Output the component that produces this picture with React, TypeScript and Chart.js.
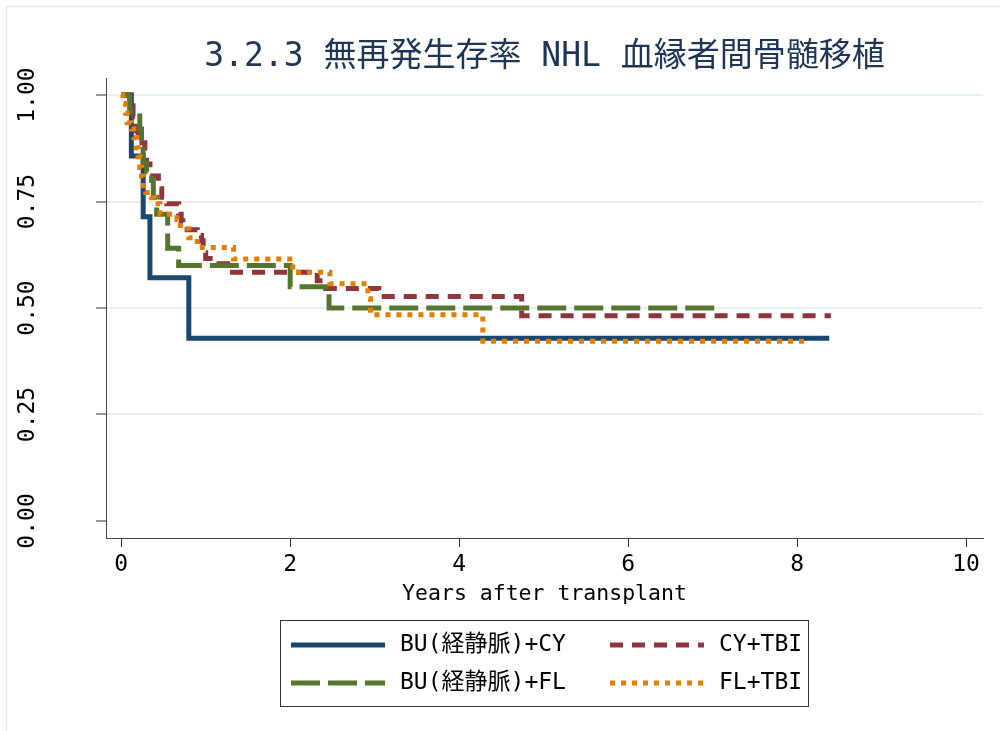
import React, { useEffect, useRef } from "react";
import { Chart, registerables } from "chart.js";

Chart.register(...registerables);

// ---- Data ----
const titleText = "3.2.3 無再発生存率 NHL 血縁者間骨髄移植";
const xAxisTitle = "Years after transplant";
const xTicks = [0, 2, 4, 6, 8, 10];
const yTicks = [0, 0.25, 0.5, 0.75, 1];
const yTickLabels = ["0.00", "0.25", "0.50", "0.75", "1.00"];
const seriesNames = ["BU(経静脈)+CY", "CY+TBI", "BU(経静脈)+FL", "FL+TBI"];

const buCyTimes = [0, 0.12, 0.26, 0.34, 0.8, 8.38];
const buCySurv = [1, 0.857, 0.714, 0.571, 0.429, 0.429];

const cyTbiTimes = [0, 0.1, 0.14, 0.18, 0.2, 0.28, 0.3, 0.34, 0.44, 0.48, 0.54, 0.68, 0.71, 0.73, 0.9, 0.95, 0.97, 1.0, 1.09, 1.26, 2.32, 2.42, 3.05, 4.74, 8.4];
const cyTbiSurv = [1, 0.975, 0.95, 0.916, 0.888, 0.862, 0.838, 0.81, 0.78, 0.76, 0.745, 0.72, 0.705, 0.684, 0.67, 0.658, 0.63, 0.616, 0.604, 0.584, 0.564, 0.546, 0.527, 0.482, 0.482];

const buFlTimes = [0, 0.1, 0.22, 0.24, 0.26, 0.3, 0.36, 0.38, 0.42, 0.55, 0.68, 2.0, 2.46, 7.06];
const buFlSurv = [1, 0.96, 0.92, 0.88, 0.84, 0.82, 0.8, 0.76, 0.72, 0.64, 0.6, 0.55, 0.5, 0.5];

const flTbiTimes = [0, 0.02, 0.05, 0.07, 0.12, 0.15, 0.18, 0.2, 0.22, 0.24, 0.26, 0.29, 0.36, 0.4, 0.46, 0.66, 0.7, 0.8, 0.9, 1.33, 2.03, 2.47, 2.92, 2.95, 4.28, 8.14];
const flTbiSurv = [1, 0.98, 0.958, 0.935, 0.92, 0.9, 0.876, 0.855, 0.83, 0.81, 0.787, 0.771, 0.759, 0.745, 0.72, 0.708, 0.686, 0.665, 0.642, 0.615, 0.584, 0.557, 0.522, 0.484, 0.422, 0.422];

// ---- Styles ----
const FONT = "'DejaVu Sans Mono', 'Noto Sans CJK JP', monospace";
const colors = ["#1a476f", "#90353b", "#55752f", "#e37e00"];
const dashes: number[][] = [[], [13, 9], [29, 8], [5, 6]];

const toPts = (t: number[], s: number[]) => t.map((x, i) => ({ x, y: s[i] }));

const overlay = {
  id: "overlay",
  beforeDraw(chart: any) {
    const ctx = chart.ctx;
    ctx.save();
    ctx.fillStyle = "#ffffff";
    ctx.fillRect(0, 0, chart.width, chart.height);
    ctx.strokeStyle = "#e3ecef";
    ctx.lineWidth = 1.5;
    ctx.beginPath();
    ctx.moveTo(6.5, chart.height);
    ctx.lineTo(6.5, 6.5);
    ctx.lineTo(chart.width, 6.5);
    ctx.stroke();
    ctx.restore();
  },
  afterDraw(chart: any) {
    const ctx = chart.ctx;
    const area = chart.chartArea;
    const ys = chart.scales.y;
    ctx.save();
    // title
    ctx.fillStyle = "#1f3556";
    ctx.font = `33px ${FONT}`;
    ctx.textAlign = "center";
    ctx.textBaseline = "middle";
    ctx.fillText(titleText, (area.left + area.right) / 2, 57);
    // y tick labels (rotated)
    ctx.fillStyle = "#000";
    ctx.font = `23px ${FONT}`;
    yTicks.forEach((v, i) => {
      const py = ys.getPixelForValue(v);
      ctx.save();
      ctx.translate(28, py);
      ctx.rotate(-Math.PI / 2);
      ctx.textAlign = "center";
      ctx.textBaseline = "middle";
      ctx.fillText(yTickLabels[i], 0, 0);
      ctx.restore();
    });
    // x title
    ctx.font = `21.5px ${FONT}`;
    ctx.textAlign = "center";
    ctx.textBaseline = "middle";
    ctx.fillText(xAxisTitle, (area.left + area.right) / 2, 594);
    // legend
    ctx.font = `23px ${FONT}`;
    ctx.strokeStyle = "#333";
    ctx.lineWidth = 1;
    ctx.setLineDash([]);
    ctx.strokeRect(280.5, 620.5, 528, 86);
    const pos = [
      { x: 291, y: 645 },
      { x: 610, y: 645 },
      { x: 291, y: 683 },
      { x: 610, y: 683 },
    ];
    seriesNames.forEach((name, i) => {
      const p = pos[i];
      ctx.save();
      ctx.strokeStyle = colors[i];
      ctx.lineWidth = 5;
      ctx.lineCap = "butt";
      ctx.setLineDash(dashes[i]);
      ctx.beginPath();
      ctx.moveTo(p.x, p.y);
      ctx.lineTo(p.x + 94, p.y);
      ctx.stroke();
      ctx.restore();
      ctx.fillStyle = "#000";
      ctx.textAlign = "left";
      ctx.textBaseline = "middle";
      ctx.fillText(name, p.x + 109, p.y);
    });
    ctx.restore();
  },
};

export default function App() {
  const ref = useRef<HTMLCanvasElement | null>(null);
  useEffect(() => {
    if (!ref.current) return;
    const series = [
      { name: seriesNames[3], pts: toPts(flTbiTimes, flTbiSurv), i: 3 },
      { name: seriesNames[2], pts: toPts(buFlTimes, buFlSurv), i: 2 },
      { name: seriesNames[1], pts: toPts(cyTbiTimes, cyTbiSurv), i: 1 },
      { name: seriesNames[0], pts: toPts(buCyTimes, buCySurv), i: 0 },
    ];
    const chart = new Chart(ref.current, {
      type: "line",
      data: {
        datasets: series.map((s) => ({
          label: s.name,
          data: s.pts,
          borderColor: colors[s.i],
          backgroundColor: colors[s.i],
          borderWidth: 5,
          borderDash: dashes[s.i],
          borderCapStyle: "butt",
          borderJoinStyle: "miter",
          stepped: "before",
          pointRadius: 0,
          fill: false,
        })),
      },
      options: {
        responsive: false,
        animation: false,
        layout: { padding: { top: 78, right: 17, bottom: 0, left: 0 } },
        plugins: {
          legend: { display: false },
          title: { display: false },
          tooltip: { enabled: false },
        },
        scales: {
          x: {
            type: "linear",
            min: -0.18,
            max: 10.2,
            afterBuildTicks: (s: any) => {
              s.ticks = xTicks.map((v) => ({ value: v }));
            },
            afterFit: (s: any) => {
              s.height = 193;
            },
            grid: {
              drawOnChartArea: false,
              drawTicks: true,
              tickLength: 9,
              tickColor: "#333",
              tickWidth: 1,
            },
            border: { display: true, color: "#444", width: 1 },
            ticks: {
              font: { family: FONT, size: 23 },
              color: "#000",
              padding: 4,
              maxRotation: 0,
              autoSkip: false,
              callback: (v: any) => String(v),
            },
          },
          y: {
            type: "linear",
            min: -0.04,
            max: 1.04,
            afterBuildTicks: (s: any) => {
              s.ticks = yTicks.map((v) => ({ value: v }));
            },
            afterFit: (s: any) => {
              s.width = 106;
            },
            grid: {
              color: (c: any) => (c.tick && c.tick.value === 0 ? "rgba(0,0,0,0)" : "#e8f0f2"),
              lineWidth: 2,
              drawTicks: true,
              tickLength: 10,
              tickColor: "#333",
              tickWidth: 1,
            },
            border: { display: true, color: "#444", width: 1 },
            ticks: { display: false },
          },
        },
      },
      plugins: [overlay],
    } as any);
    return () => chart.destroy();
  }, []);
  return (
    <div style={{ position: "absolute", left: 0, top: 0, width: 1000, height: 731 }}>
      <canvas ref={ref} width={1000} height={731} style={{ display: "block" }} />
    </div>
  );
}
